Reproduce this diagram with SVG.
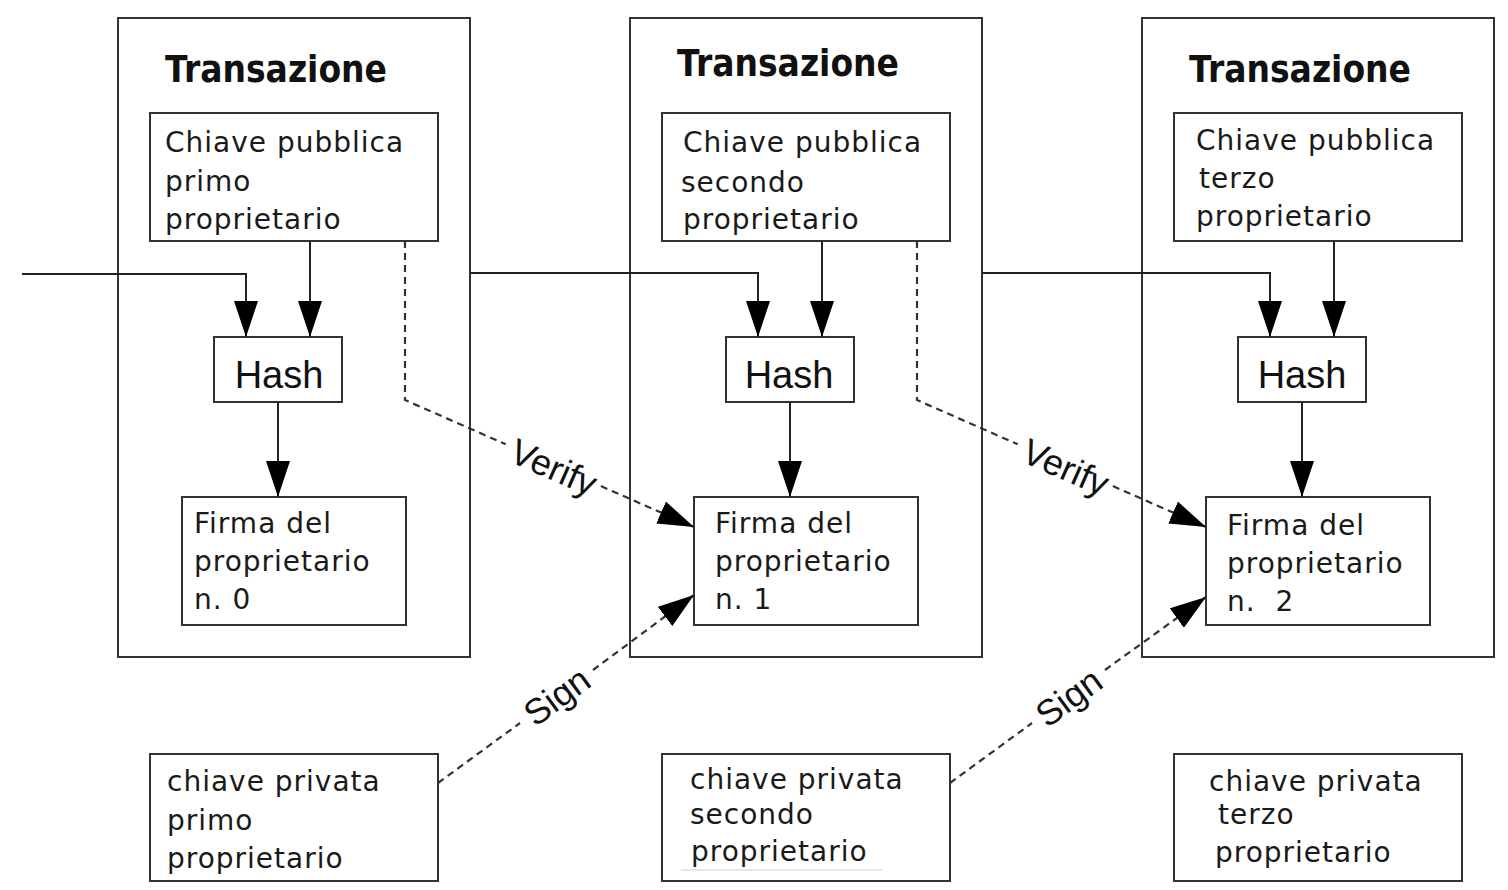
<svg xmlns="http://www.w3.org/2000/svg" width="1508" height="890" viewBox="0 0 1508 890">
<style>
.box{fill:#fff;stroke:#333;stroke-width:2}
.tx{fill:none;stroke:#333;stroke-width:2}
.t{font-family:"DejaVu Sans",sans-serif;font-size:28px;letter-spacing:1px;fill:#1a1a1a}
.title{font-family:"DejaVu Sans",sans-serif;font-size:38px;font-weight:bold;fill:#111}
.hash{font-family:"Liberation Sans",Arial,sans-serif;font-size:38px;fill:#111;text-anchor:middle}
.lab{font-family:"Liberation Sans",Arial,sans-serif;font-size:36px;fill:#111;text-anchor:middle}
.ln{fill:none;stroke:#222;stroke-width:2}
.dash{fill:none;stroke:#333;stroke-width:2.2;stroke-dasharray:7 5}
</style>
<defs>
<marker id="ah" markerUnits="userSpaceOnUse" markerWidth="36" markerHeight="24" refX="36" refY="12" orient="auto" viewBox="0 0 36 24">
<path d="M0,0 L36,12 L0,24 z" fill="#000"/>
</marker>
</defs>
<rect width="1508" height="890" fill="#fff"/>

<g id="tx1">
<rect class="tx" x="118" y="18" width="352" height="639"/>
<text class="title" x="165" y="82" textLength="222" lengthAdjust="spacingAndGlyphs">Transazione</text>
</g>
<g id="tx2">
<rect class="tx" x="630" y="18" width="352" height="639"/>
<text class="title" x="677" y="76" textLength="222" lengthAdjust="spacingAndGlyphs">Transazione</text>
</g>
<g id="tx3">
<rect class="tx" x="1142" y="18" width="352" height="639"/>
<text class="title" x="1189" y="82" textLength="222" lengthAdjust="spacingAndGlyphs">Transazione</text>
</g>

<g id="pub1">
<rect class="box" x="150" y="113" width="288" height="128"/>
<text class="t" x="165" y="152">Chiave pubblica</text>
<text class="t" x="165" y="191">primo</text>
<text class="t" x="165" y="229">proprietario</text>
</g>
<g id="pub2">
<rect class="box" x="662" y="113" width="288" height="128"/>
<text class="t" x="683" y="152">Chiave pubblica</text>
<text class="t" x="681" y="192">secondo</text>
<text class="t" x="683" y="229">proprietario</text>
</g>
<g id="pub3">
<rect class="box" x="1174" y="113" width="288" height="128"/>
<text class="t" x="1196" y="150">Chiave pubblica</text>
<text class="t" x="1199" y="188">terzo</text>
<text class="t" x="1196" y="226">proprietario</text>
</g>

<g id="hash1">
<rect class="box" x="214" y="337" width="128" height="65"/>
<text class="hash" x="279" y="388">Hash</text>
</g>
<g id="hash2">
<rect class="box" x="726" y="337" width="128" height="65"/>
<text class="hash" x="789" y="388">Hash</text>
</g>
<g id="hash3">
<rect class="box" x="1238" y="337" width="128" height="65"/>
<text class="hash" x="1302" y="388">Hash</text>
</g>

<g id="sig1">
<rect class="box" x="182" y="497" width="224" height="128"/>
<text class="t" x="194" y="533">Firma del</text>
<text class="t" x="194" y="571">proprietario</text>
<text class="t" x="194" y="609">n. 0</text>
</g>
<g id="sig2">
<rect class="box" x="694" y="497" width="224" height="128"/>
<text class="t" x="715" y="533">Firma del</text>
<text class="t" x="715" y="571">proprietario</text>
<text class="t" x="715" y="609">n. 1</text>
</g>
<g id="sig3">
<rect class="box" x="1206" y="497" width="224" height="128"/>
<text class="t" x="1227" y="535">Firma del</text>
<text class="t" x="1227" y="573">proprietario</text>
<text class="t" x="1227" y="611" xml:space="preserve">n.  2</text>
</g>

<g id="priv1">
<rect class="box" x="150" y="754" width="288" height="127"/>
<text class="t" x="167" y="791">chiave privata</text>
<text class="t" x="167" y="830">primo</text>
<text class="t" x="167" y="868">proprietario</text>
</g>
<g id="priv2">
<rect class="box" x="662" y="754" width="288" height="127"/>
<text class="t" x="690" y="789">chiave privata</text>
<text class="t" x="690" y="824">secondo</text>
<text class="t" x="691" y="861">proprietario</text>
<line x1="681" y1="870" x2="882" y2="870" stroke="#d0d0d0" stroke-width="1"/>
</g>
<g id="priv3">
<rect class="box" x="1174" y="754" width="288" height="127"/>
<text class="t" x="1209" y="791">chiave privata</text>
<text class="t" x="1218" y="824">terzo</text>
<text class="t" x="1215" y="862">proprietario</text>
</g>

<g id="connectors">
<path class="ln" d="M22,274 H246 V337" marker-end="url(#ah)"/>
<path class="ln" d="M310,241 V337" marker-end="url(#ah)"/>
<path class="ln" d="M278,402 V497" marker-end="url(#ah)"/>
<path class="ln" d="M470,273 H758 V337" marker-end="url(#ah)"/>
<path class="ln" d="M822,241 V337" marker-end="url(#ah)"/>
<path class="ln" d="M790,402 V497" marker-end="url(#ah)"/>
<path class="ln" d="M982,273 H1270 V337" marker-end="url(#ah)"/>
<path class="ln" d="M1334,241 V337" marker-end="url(#ah)"/>
<path class="ln" d="M1302,402 V497" marker-end="url(#ah)"/>

<path class="dash" d="M405,241 V400 L505.7,444.3"/>
<path class="dash" d="M600.9,486.1 L694,527" marker-end="url(#ah)"/>
<text class="lab" transform="translate(554,467) rotate(23.7)" x="0" y="13">Verify</text>

<path class="dash" d="M917,241 V400 L1017.7,444.3"/>
<path class="dash" d="M1112.9,486.1 L1206,527" marker-end="url(#ah)"/>
<text class="lab" transform="translate(1066,467) rotate(23.7)" x="0" y="13">Verify</text>

<path class="dash" d="M438,783 L520,723"/>
<path class="dash" d="M593,670 L694,595" marker-end="url(#ah)"/>
<text class="lab" transform="translate(556.5,696) rotate(-36.3)" x="0" y="13">Sign</text>

<path class="dash" d="M950,783 L1032,723"/>
<path class="dash" d="M1105,670 L1206,597" marker-end="url(#ah)"/>
<text class="lab" transform="translate(1068.5,697) rotate(-36.3)" x="0" y="13">Sign</text>
</g>
</svg>
